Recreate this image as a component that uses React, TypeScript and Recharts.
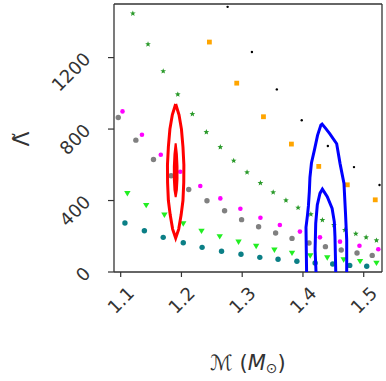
import { ReferenceLine, Scatter, ScatterChart, XAxis, YAxis } from "recharts";

// chirp mass vs. tidal deformability
const starMass = [1.12, 1.145, 1.17, 1.194, 1.218, 1.241, 1.264, 1.286, 1.308, 1.33, 1.351, 1.372, 1.392, 1.413, 1.432, 1.451, 1.469, 1.487, 1.504, 1.521];
const starLambda = [1447, 1275, 1124, 994, 884, 783, 699, 623, 558, 498, 446, 401, 360, 323, 291, 263, 235, 214, 194, 177];

const dotMass = [1.276, 1.316, 1.357, 1.398, 1.441, 1.484, 1.526];
const dotLambda = [1484, 1231, 1022, 849, 705, 587, 487];

const squareMass = [1.246, 1.291, 1.335, 1.381, 1.426, 1.473, 1.519];
const squareLambda = [1287, 1057, 869, 716, 591, 488, 404];

const magentaMass = [1.103, 1.135, 1.166, 1.198, 1.231, 1.264, 1.297, 1.33, 1.362, 1.395, 1.428, 1.461, 1.493, 1.524];
const magentaLambda = [899, 768, 656, 561, 481, 412, 354, 304, 263, 226, 194, 170, 147, 127];

const greyMass = [1.096, 1.125, 1.154, 1.183, 1.212, 1.242, 1.271, 1.299, 1.327, 1.355, 1.382, 1.41, 1.437, 1.463, 1.489, 1.514];
const greyLambda = [865, 738, 630, 539, 462, 399, 343, 293, 253, 218, 188, 162, 142, 123, 106, 93];

const triMass = [1.111, 1.142, 1.172, 1.203, 1.233, 1.263, 1.294, 1.323, 1.353, 1.382, 1.412, 1.44, 1.467, 1.494, 1.521];
const triLambda = [440, 373, 319, 270, 229, 198, 168, 144, 123, 106, 91, 80, 69, 60, 50];

const tealMass = [1.107, 1.139, 1.17, 1.203, 1.234, 1.266, 1.298, 1.329, 1.359, 1.39, 1.42, 1.449, 1.477, 1.505];
const tealLambda = [274, 231, 194, 164, 138, 116, 99, 82, 71, 60, 50, 45, 37, 32];

// contours
const redOuterMass = [1.1905, 1.185, 1.181, 1.1785, 1.177, 1.1772, 1.1785, 1.1815, 1.1855, 1.1905, 1.1955, 1.1995, 1.2025, 1.2038, 1.204, 1.2025, 1.2, 1.196, 1.1905];
const redOuterLambda = [940, 880, 800, 700, 600, 500, 400, 320, 240, 190, 240, 320, 400, 500, 600, 700, 800, 880, 940];

const redInnerMass = [1.1905, 1.1885, 1.1875, 1.1875, 1.1885, 1.1905, 1.1925, 1.1935, 1.1935, 1.1925, 1.1905];
const redInnerLambda = [720, 660, 590, 520, 460, 420, 460, 520, 590, 660, 720];

const blueOuterMass = [1.406, 1.4055, 1.405, 1.4075, 1.409, 1.4105, 1.4115, 1.414, 1.419, 1.424, 1.4295, 1.4315, 1.437, 1.444, 1.4555, 1.461, 1.4675, 1.47, 1.472, 1.472];
const blueOuterLambda = [0, 120, 250, 320, 370, 450, 530, 610, 685, 765, 822, 828, 805, 775, 718, 608, 496, 330, 180, 0];

const blueInnerMass = [1.4215, 1.42, 1.421, 1.4236, 1.428, 1.432, 1.44, 1.448, 1.4516, 1.4527, 1.454];
const blueInnerLambda = [0, 123, 272, 375, 440, 464, 421, 356, 281, 197, 0];

const massTicks = [1.1, 1.2, 1.3, 1.4, 1.5];
const lambdaTicks = [0, 400, 800, 1200];

const zip = (xs: number[], ys: number[]) => xs.map((x, i) => ({ x, y: ys[i] }));

const FONT = "DejaVu Sans";
const INK = "#333";

function XTick({ x, y, payload }: any) {
  const cy = y + 23;
  return (
    <text x={x} y={cy} transform={`rotate(-45 ${x} ${cy})`} textAnchor="middle" dominantBaseline="central" fontSize={18} fontFamily={FONT} fill={INK}>
      {payload.value.toFixed(1)}
    </text>
  );
}

function YTick({ x, y, payload }: any) {
  const ax = x - 21;
  const ay = y - 2;
  return (
    <text x={ax} y={ay} transform={`rotate(-45 ${ax} ${ay})`} textAnchor="end" dominantBaseline="central" fontSize={18} fontFamily={FONT} fill={INK}>
      {payload.value}
    </text>
  );
}

const xLabel = () => (
  <text x={248} y={370} textAnchor="middle" fontSize={21} fontFamily={FONT} fill={INK}>
    ℳ (<tspan fontStyle="italic">M</tspan>
    <tspan fontSize={14} dy={3}>⊙</tspan>
    <tspan dy={-3}>)</tspan>
  </text>
);

const yLabel = () => (
  <text x={21} y={139} transform="rotate(-90 21 139)" textAnchor="middle" dominantBaseline="central" fontSize={22} fontFamily={FONT} fill={INK}>
    Λ̃
  </text>
);

const star = (p: any) => {
  const pts: string[] = [];
  for (let i = 0; i < 10; i++) {
    const r = i % 2 === 0 ? 3 : 1.3;
    const a = -Math.PI / 2 + (i * Math.PI) / 5;
    pts.push(`${p.cx + r * Math.cos(a)},${p.cy + r * Math.sin(a)}`);
  }
  return <polygon points={pts.join(" ")} fill="#2a9a2a" />;
};
const dot = (p: any) => <circle cx={p.cx} cy={p.cy} r={1.2} fill="#000" />;
const square = (p: any) => <rect x={p.cx - 2.4} y={p.cy - 2.4} width={4.8} height={4.8} fill="#ffa500" />;
const circle = (fill: string, r: number) => (p: any) => <circle cx={p.cx} cy={p.cy} r={r} fill={fill} />;
const triangle = (p: any) => (
  <polygon points={`${p.cx - 3.2},${p.cy - 2.4} ${p.cx + 3.2},${p.cy - 2.4} ${p.cx},${p.cy + 3}`} fill="#22ee22" />
);
const none = () => <g />;

export default function App() {
  return (
    <div style={{ position: "absolute", left: 0, top: 0, background: "#fff" }}>
      <ScatterChart width={386} height={381} margin={{ top: 4, right: 4, left: 54, bottom: 49 }}>
        <XAxis
          type="number"
          dataKey="x"
          domain={[1.089, 1.5301]}
          allowDataOverflow
          ticks={massTicks}
          tick={<XTick />}
          tickSize={5}
          tickMargin={0}
          height={60}
          axisLine={{ stroke: INK, strokeWidth: 1.3 }}
          tickLine={{ stroke: INK, strokeWidth: 1.2 }}
          label={{ content: xLabel }}
        />
        <YAxis
          type="number"
          dataKey="y"
          domain={[0, 1500]}
          allowDataOverflow
          ticks={lambdaTicks}
          tick={<YTick />}
          tickSize={6}
          tickMargin={0}
          width={60}
          axisLine={{ stroke: INK, strokeWidth: 1.3 }}
          tickLine={{ stroke: INK, strokeWidth: 1.2 }}
          label={{ content: yLabel }}
        />
        <ReferenceLine y={1500} stroke={INK} strokeWidth={1.3} />
        <ReferenceLine x={1.5301} stroke={INK} strokeWidth={1.3} />

        <Scatter data={zip(starMass, starLambda)} shape={star} isAnimationActive={false} />
        <Scatter data={zip(dotMass, dotLambda)} shape={dot} isAnimationActive={false} />
        <Scatter data={zip(squareMass, squareLambda)} shape={square} isAnimationActive={false} />
        <Scatter data={zip(magentaMass, magentaLambda)} shape={circle("#ff00ff", 2.3)} isAnimationActive={false} />
        <Scatter data={zip(greyMass, greyLambda)} shape={circle("#808080", 2.7)} isAnimationActive={false} />
        <Scatter data={zip(triMass, triLambda)} shape={triangle} isAnimationActive={false} />
        <Scatter data={zip(tealMass, tealLambda)} shape={circle("#0b7f86", 2.7)} isAnimationActive={false} />

        <Scatter data={zip(redOuterMass, redOuterLambda)} shape={none} line={{ stroke: "#ff0000", strokeWidth: 3 }} lineType="joint" fill="#ff0000" isAnimationActive={false} />
        <Scatter data={zip(redInnerMass, redInnerLambda)} shape={none} line={{ stroke: "#ff0000", strokeWidth: 2, fill: "#ff0000" }} lineType="joint" fill="#ff0000" isAnimationActive={false} />
        <Scatter data={zip(blueOuterMass, blueOuterLambda)} shape={none} line={{ stroke: "#0000ff", strokeWidth: 3 }} lineType="joint" fill="#0000ff" isAnimationActive={false} />
        <Scatter data={zip(blueInnerMass, blueInnerLambda)} shape={none} line={{ stroke: "#0000ff", strokeWidth: 3 }} lineType="joint" fill="#0000ff" isAnimationActive={false} />
      </ScatterChart>
    </div>
  );
}
